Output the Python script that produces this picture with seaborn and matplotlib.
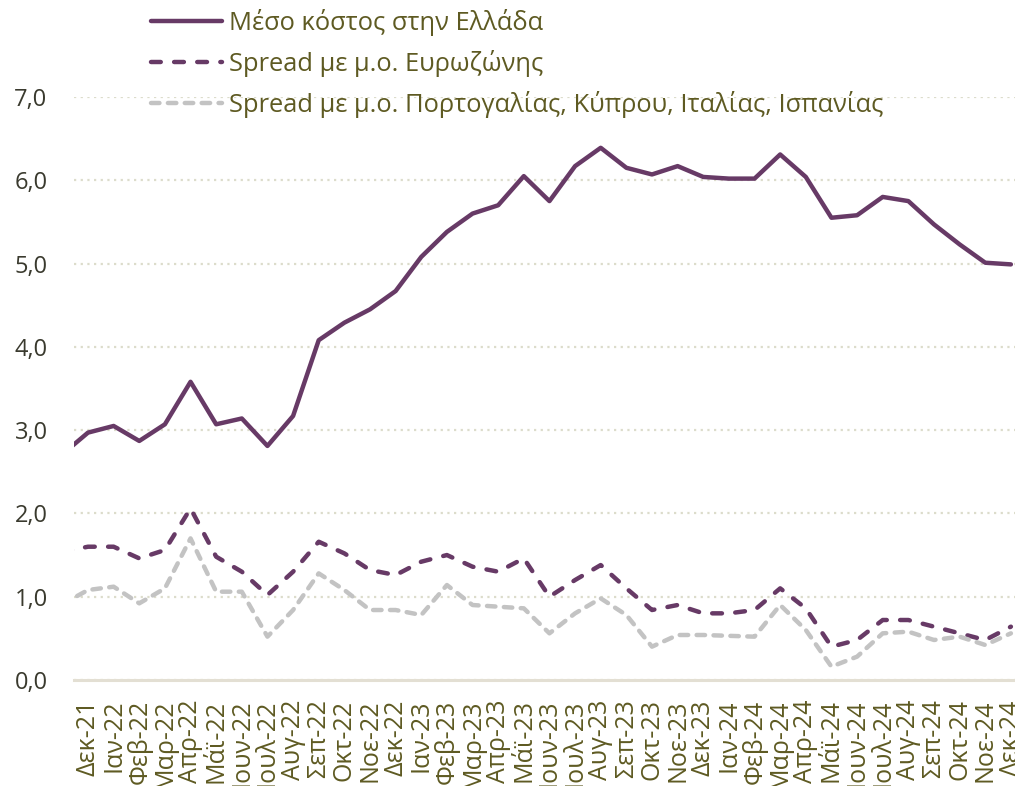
import matplotlib
matplotlib.use("Agg")
import matplotlib.pyplot as plt
import numpy as np
import pandas as pd
import seaborn as sns

# --- Dedomena (diavasmena apo to grafima) ---
# to proto simeio (Noe-21) einai mono miso mesa sto plaisio, opos sto prototypo
months = ["Νοε-21", "Δεκ-21", "Ιαν-22", "Φεβ-22", "Μαρ-22", "Απρ-22", "Μάϊ-22", "Ιουν-22",
          "Ιουλ-22", "Αυγ-22", "Σεπ-22", "Οκτ-22", "Νοε-22", "Δεκ-22", "Ιαν-23", "Φεβ-23",
          "Μαρ-23", "Απρ-23", "Μάϊ-23", "Ιουν-23", "Ιουλ-23", "Αυγ-23", "Σεπ-23", "Οκτ-23",
          "Νοε-23", "Δεκ-23", "Ιαν-24", "Φεβ-24", "Μαρ-24", "Απρ-24", "Μάϊ-24", "Ιουν-24",
          "Ιουλ-24", "Αυγ-24", "Σεπ-24", "Οκτ-24", "Νοε-24", "Δεκ-24"]

cost_greece = [2.71, 2.97, 3.05, 2.87, 3.07, 3.58, 3.07, 3.14, 2.81, 3.17, 4.08, 4.29, 4.45,
               4.67, 5.08, 5.38, 5.60, 5.70, 6.05, 5.75, 6.17, 6.39, 6.15, 6.07, 6.17, 6.04,
               6.02, 6.02, 6.31, 6.04, 5.55, 5.58, 5.80, 5.75, 5.47, 5.23, 5.01, 4.99]

spread_ez = [1.54, 1.60, 1.60, 1.46, 1.56, 2.06, 1.48, 1.30, 1.02, 1.30, 1.66, 1.52, 1.32,
             1.26, 1.42, 1.50, 1.36, 1.30, 1.46, 1.00, 1.20, 1.38, 1.10, 0.84, 0.90, 0.80,
             0.80, 0.84, 1.10, 0.86, 0.40, 0.48, 0.72, 0.72, 0.64, 0.56, 0.48, 0.64]

spread_south = [0.91, 1.08, 1.12, 0.92, 1.10, 1.70, 1.06, 1.06, 0.52, 0.84, 1.28, 1.08, 0.84,
                0.84, 0.78, 1.14, 0.90, 0.88, 0.86, 0.56, 0.80, 0.98, 0.78, 0.40, 0.54, 0.54,
                0.53, 0.52, 0.90, 0.60, 0.16, 0.28, 0.56, 0.58, 0.48, 0.52, 0.42, 0.56]

series_names = ["Μέσο κόστος στην Ελλάδα",
                "Spread με μ.ο. Ευρωζώνης",
                "Spread με μ.ο. Πορτογαλίας, Κύπρου, Ιταλίας, Ισπανίας"]

df = pd.DataFrame({
    "month": months * 3,
    "value": cost_greece + spread_ez + spread_south,
    "series": np.repeat(series_names, len(months)),
})

# --- Styl ---
sns.set_style("white")
plt.rcParams["font.family"] = ["Open Sans", "DejaVu Sans"]

purple = "#673A66"
grey = "#C3C3C3"
olive = "#5E5A22"

palette = {series_names[0]: purple, series_names[1]: purple, series_names[2]: grey}
dashes = {series_names[0]: "", series_names[1]: (2.2, 3.0), series_names[2]: (1.9, 1.9)}

fig = plt.figure(figsize=(10.15, 7.86), dpi=100)
ax = fig.add_axes([0.0729, 0.1349, 0.9271, 0.7417])

sns.lineplot(data=df, x="month", y="value", hue="series", style="series",
             palette=palette, dashes=dashes, linewidth=3.2, sort=False,
             legend=False, ax=ax)
for ln in ax.get_lines():
    ln.set_dash_capstyle("round")
    ln.set_solid_capstyle("round")

ax.set_yticks(np.arange(0, 8, 1))
ax.set_yticklabels([f"{v:.1f}".replace(".", ",") for v in range(8)])
ax.set_xticks(range(len(months)))
ax.set_xticklabels(months, rotation=90, va="top", ha="center")
ax.set_ylim(0, 7)
ax.set_xlim(0.454, 37.16)

ax.yaxis.grid(True, linestyle=(0, (1, 2)), color="#DCDCCB", linewidth=1.6)
ax.xaxis.grid(False)
ax.set_axisbelow(True)
for s in ["top", "right", "left"]:
    ax.spines[s].set_visible(False)
ax.spines["bottom"].set_color("#E3DFD3")
ax.spines["bottom"].set_linewidth(2.2)

ax.tick_params(axis="y", length=0, pad=19, labelsize=17, labelcolor="#3A3A2E")
ax.tick_params(axis="x", length=0, pad=14, labelsize=18, labelcolor=olive)
ax.set_xlabel("")
ax.set_ylabel("")

# --- Ypomnima ---
handles = [
    plt.Line2D([], [], color=purple, lw=3.2, solid_capstyle="round"),
    plt.Line2D([], [], color=purple, lw=3.2, dashes=(2.2, 3.0), dash_capstyle="round"),
    plt.Line2D([], [], color=grey, lw=3.2, dashes=(1.9, 1.9), dash_capstyle="round"),
]
leg = fig.legend(handles, series_names, loc="upper left", bbox_to_anchor=(0.139, 1.002),
                 frameon=False, fontsize=18.4, handlelength=2.75, handletextpad=0.3,
                 labelspacing=0.55, borderaxespad=0)
for t in leg.get_texts():
    t.set_color(olive)

fig.savefig("out.png", dpi=100)
